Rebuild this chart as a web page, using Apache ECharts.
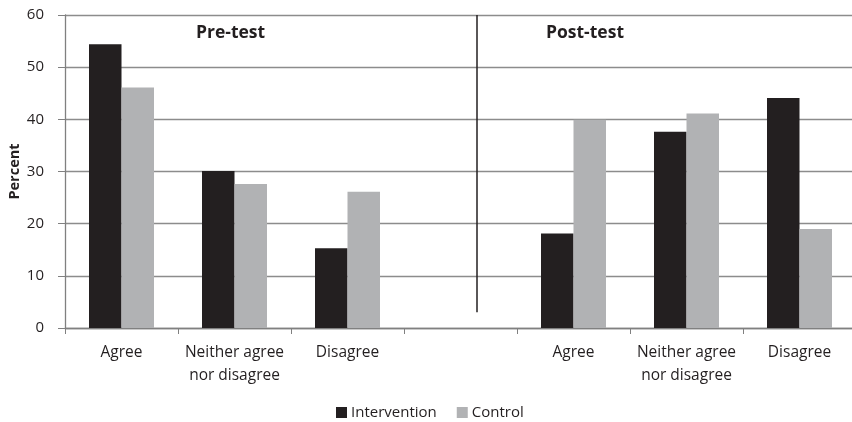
<!DOCTYPE html>
<html><head><meta charset="utf-8">
<script src="https://cdn.jsdelivr.net/npm/echarts@6/dist/echarts.min.js"></script>
<style>html,body{margin:0;padding:0;background:#fff}#c{width:852px;height:422px}</style>
</head><body><div id="c"></div>
<script>
const categories = ['Agree', 'Neither agree\nnor disagree', 'Disagree', '', 'Agree', 'Neither agree\nnor disagree', 'Disagree'];
const intervention = [54.4, 30.1, 15.3, '-', 18.1, 37.6, 44.1];
const control = [46.1, 27.6, 26.1, '-', 39.9, 41.1, 19.0];
const yTicks = [0, 10, 20, 30, 40, 50, 60];
const phaseLabels = ['Pre-test', 'Post-test'];

const font = 'Open Sans';
const chart = echarts.init(document.getElementById('c'), null, {renderer: 'canvas'});
chart.setOption({
  animation: false,
  textStyle: {fontFamily: font},
  grid: {left: 65, top: 15, width: 791, bottom: 94, containLabel: false, outerBoundsMode: 'none'},
  title: [
    {text: phaseLabels[0], left: 191, top: 19, textStyle: {fontFamily: font, fontSize: 17.5, fontWeight: 'bold', color: '#231f20'}},
    {text: phaseLabels[1], left: 541, top: 19, textStyle: {fontFamily: font, fontSize: 17.5, fontWeight: 'bold', color: '#231f20'}}
  ],
  legend: {
    bottom: 2, left: 336, padding: 0, itemWidth: 11, itemHeight: 11, itemGap: 20, icon: 'rect',
    textStyle: {fontFamily: font, fontSize: 15, color: '#231f20', padding: [0, 0, 0, -1]},
    data: ['Intervention', 'Control']
  },
  xAxis: {
    type: 'category', data: categories,
    axisLine: {lineStyle: {color: '#808080', width: 1.3}},
    axisTick: {show: true, length: 6, lineStyle: {color: '#808080'}},
    axisLabel: {interval: 0, fontSize: 15.5, color: '#231f20', margin: 13, lineHeight: 23, fontFamily: font}
  },
  yAxis: {
    type: 'value', min: 0, max: 60, interval: 10,
    name: 'Percent', nameLocation: 'middle', nameGap: 43, nameRotate: 90, nameMoveOverlap: false,
    nameTextStyle: {fontFamily: font, fontSize: 14.5, fontWeight: 'bold', color: '#231f20'},
    axisLine: {show: true, lineStyle: {color: '#808080', width: 1.3}},
    axisTick: {show: true, length: 7, lineStyle: {color: '#808080'}},
    splitLine: {lineStyle: {color: '#8c8c8c', width: 1.3}},
    axisLabel: {fontSize: 15, color: '#231f20', margin: 21, fontFamily: font,
      formatter: v => yTicks.includes(v) ? String(v) : ''}
  },
  series: [
    {name: 'Intervention', type: 'bar', data: intervention, barWidth: 32.5, barGap: '0%',
     itemStyle: {color: '#231f20'}},
    {name: 'Control', type: 'bar', data: control, barWidth: 32.5, barGap: '0%',
     itemStyle: {color: '#b1b2b4'},
     markLine: {symbol: 'none', silent: true, label: {show: false},
       lineStyle: {color: '#231f20', width: 1.5, type: 'solid'},
       data: [[{coord: [3, 60]}, {coord: [3, 3]}]]}}
  ]
});
</script></body></html>
